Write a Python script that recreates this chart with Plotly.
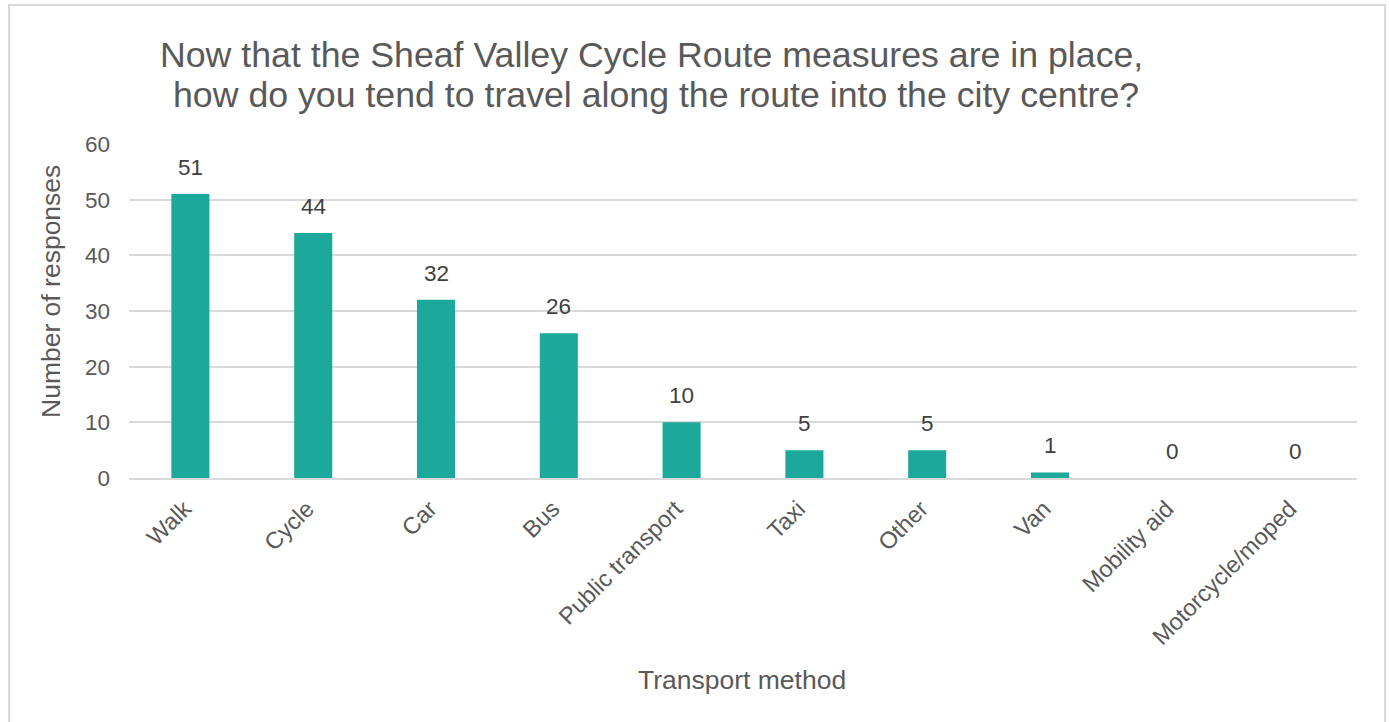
import plotly.graph_objects as go

categories = ["Walk", "Cycle", "Car", "Bus", "Public transport", "Taxi", "Other",
              "Van", "Mobility aid", "Motorcycle/moped"]
responses = [51, 44, 32, 26, 10, 5, 5, 1, 0, 0]
y_ticks = [0, 10, 20, 30, 40, 50, 60]

title_lines = ["Now that the Sheaf Valley Cycle Route measures are in place,",
               "how do you tend to travel along the route into the city centre?"]
x_title = "Transport method"
y_title = "Number of responses"

W, H = 1389, 722
L, R, T, B = 129, 32, 144, 244
pw, ph = W - L - R, H - T - B


def px_x(px):
    return (px - L) / pw


def px_y(py):
    return (H - B - py) / ph


FONT = "Liberation Sans, Arial, sans-serif"
BAR = "#1CA89A"
GRID = "#D9D9D9"

fig = go.Figure()
fig.add_trace(go.Bar(x=categories, y=responses, marker=dict(color=BAR, line=dict(width=0)),
                     hoverinfo="x+y"))

annotations = []
for c, v in zip(categories, responses):
    annotations.append(dict(x=c, y=v, xref="x", yref="y", text=str(v), showarrow=False,
                            yanchor="bottom", yshift=12,
                            font=dict(family=FONT, size=22.5, color="#404040")))

# Title lines
annotations.append(dict(x=px_x(651), y=px_y(65), xref="paper", yref="paper",
                        text=title_lines[0], showarrow=False, xanchor="center",
                        yanchor="bottom", yshift=-12,
                        font=dict(family=FONT, size=35.7, color="#595959")))
annotations.append(dict(x=px_x(656), y=px_y(105), xref="paper", yref="paper",
                        text=title_lines[1], showarrow=False, xanchor="center",
                        yanchor="bottom", yshift=-12,
                        font=dict(family=FONT, size=35.7, color="#595959")))
# Axis titles
annotations.append(dict(x=px_x(742), y=px_y(680), xref="paper", yref="paper",
                        text=x_title, showarrow=False, xanchor="center", yanchor="middle",
                        font=dict(family=FONT, size=26.5, color="#595959")))
annotations.append(dict(x=px_x(51), y=px_y(292), xref="paper", yref="paper",
                        text=y_title, showarrow=False, textangle=-90,
                        xanchor="center", yanchor="middle",
                        font=dict(family=FONT, size=26.5, color="#595959")))

fig.update_layout(
    width=W, height=H,
    margin=dict(l=L, r=R, t=T, b=B, autoexpand=False),
    paper_bgcolor="white", plot_bgcolor="white",
    bargap=0.69,
    showlegend=False,
    annotations=annotations,
    font=dict(family=FONT, color="#595959"),
    shapes=[dict(type="rect", xref="paper", yref="paper",
                 x0=px_x(9), x1=px_x(1385), y0=px_y(740), y1=px_y(5),
                 line=dict(color=GRID, width=2), fillcolor="rgba(0,0,0,0)", layer="below")],
)
fig.update_xaxes(type="category", showgrid=False, showline=True, linecolor=GRID, linewidth=1.5,
                 ticks="", tickangle=-45, tickfont=dict(family=FONT, size=23.5, color="#595959"),
                 ticklabelstandoff=6, ticklabelshift=-6)
fig.update_yaxes(range=[0, 60], tickvals=y_ticks, showgrid=True, gridcolor=GRID, gridwidth=1.5,
                 zeroline=False, showline=False, ticks="",
                 tickfont=dict(family=FONT, size=22.5, color="#595959"), ticklabelstandoff=18)

fig.write_html("out.html", config={"displayModeBar": False},
               post_script="document.body.style.margin='0';document.body.style.overflow='hidden';")
